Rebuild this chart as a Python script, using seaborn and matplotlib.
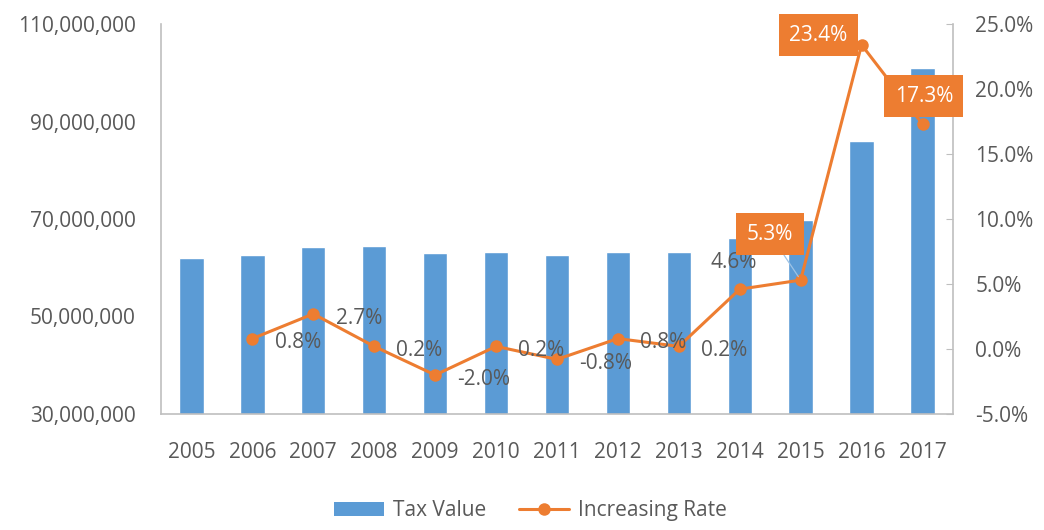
import matplotlib
matplotlib.use('Agg')
import matplotlib.pyplot as plt
import matplotlib.ticker as mticker
from matplotlib.patches import Patch
from matplotlib.lines import Line2D
import seaborn as sns
import pandas as pd

# data
years = ['2005', '2006', '2007', '2008', '2009', '2010', '2011',
         '2012', '2013', '2014', '2015', '2016', '2017']
tax_value = [62100000, 62600000, 64300000, 64400000, 63100000, 63200000, 62700000,
             63200000, 63300000, 66100000, 69800000, 86100000, 101000000]
rate_years = ['2006', '2007', '2008', '2009', '2010', '2011',
              '2012', '2013', '2014', '2015', '2016', '2017']
increasing_rate = [0.8, 2.7, 0.2, -2.0, 0.2, -0.8, 0.8, 0.2, 4.6, 5.3, 23.4, 17.3]
left_ticks = [30000000, 50000000, 70000000, 90000000, 110000000]
right_ticks = [-5, 0, 5, 10, 15, 20, 25]

bar_color = '#5B9BD5'
line_color = '#ED7D31'
text_color = '#595959'
axis_color = '#BFBFBF'

sns.set_style('white')
plt.rcParams['font.family'] = ['Open Sans', 'DejaVu Sans']
fs = 15

df_bar = pd.DataFrame({'Year': years, 'Tax': tax_value})
df_line = pd.DataFrame({'Year': rate_years, 'Rate': increasing_rate})
df_line['pos'] = [years.index(y) for y in rate_years]

fig = plt.figure(figsize=(10.44, 5.30), dpi=100)
ax = fig.add_axes([0.1542, 0.2189, 0.7586, 0.7358])

sns.barplot(data=df_bar, x='Year', y='Tax', color=bar_color, width=0.4,
            saturation=1, ax=ax)
ax.set_ylim(left_ticks[0], left_ticks[-1])
ax.set_yticks(left_ticks)
ax.yaxis.set_major_formatter(mticker.FuncFormatter(lambda v, p: f'{v:,.0f}'))
ax.set_xlabel('')
ax.set_ylabel('')
ax.tick_params(axis='y', length=0, pad=18, labelsize=fs, labelcolor=text_color)
ax.tick_params(axis='x', length=0, pad=20, labelsize=fs, labelcolor=text_color)
for s in ['top', 'right']:
    ax.spines[s].set_visible(False)
for s in ['left', 'bottom']:
    ax.spines[s].set_color(axis_color)
    ax.spines[s].set_linewidth(1.2)

ax2 = ax.twinx()
sns.lineplot(data=df_line, x='pos', y='Rate', color=line_color, linewidth=2.2,
             marker='o', markersize=9, markeredgewidth=0, ax=ax2)
ax.set_xlim(-0.5, len(years) - 0.5)
ax2.set_xlim(-0.5, len(years) - 0.5)
ax2.set_ylim(right_ticks[0], right_ticks[-1])
ax2.set_yticks(right_ticks)
ax2.yaxis.set_major_formatter(mticker.FuncFormatter(lambda v, p: f'{v:.1f}%'))
ax2.set_xlabel('')
ax2.set_ylabel('')
ax2.tick_params(axis='y', direction='in', length=5, color=axis_color, pad=16,
                labelsize=fs, labelcolor=text_color)
for s in ['top', 'left', 'bottom']:
    ax2.spines[s].set_visible(False)
ax2.spines['right'].set_color(axis_color)
ax2.spines['right'].set_linewidth(1.2)

# data labels
for _, row in df_line.iterrows():
    label = f"{row['Rate']:.1f}%"
    x, y = row['pos'], row['Rate']
    if row['Year'] == '2014':
        ax2.annotate(label, (x, y), xytext=(-4, 19), textcoords='offset points',
                     ha='center', va='center', fontsize=fs, color=text_color)
    elif row['Year'] in ('2015', '2016', '2017'):
        off = {'2015': (-22, 33), '2016': (-31, 7), '2017': (1, 20)}[row['Year']]
        arrow = None
        if row['Year'] == '2015':
            arrow = dict(arrowstyle='-', color='#9DC3E6', lw=0.9, shrinkA=0, shrinkB=3)
        ax2.annotate(label, (x, y), xytext=off, textcoords='offset points',
                     ha='center', va='center', fontsize=fs, color='white',
                     bbox=dict(boxstyle='square,pad=0.5', fc=line_color, ec='none'),
                     arrowprops=arrow)
    else:
        ax2.annotate(label, (x, y), xytext=(16, -3), textcoords='offset points',
                     ha='left', va='center', fontsize=fs, color=text_color)

handles = [Patch(facecolor=bar_color, edgecolor='none'),
           Line2D([], [], color=line_color, lw=2.2, marker='o', markersize=9,
                  markeredgewidth=0)]
fig.legend(handles, ['Tax Value', 'Increasing Rate'], loc='center',
           bbox_to_anchor=(0.508, 0.036), ncol=2, frameon=False, fontsize=fs,
           labelcolor=text_color, handlelength=2.4, handletextpad=0.4,
           columnspacing=1.6)

fig.savefig('out.png', dpi=100)
